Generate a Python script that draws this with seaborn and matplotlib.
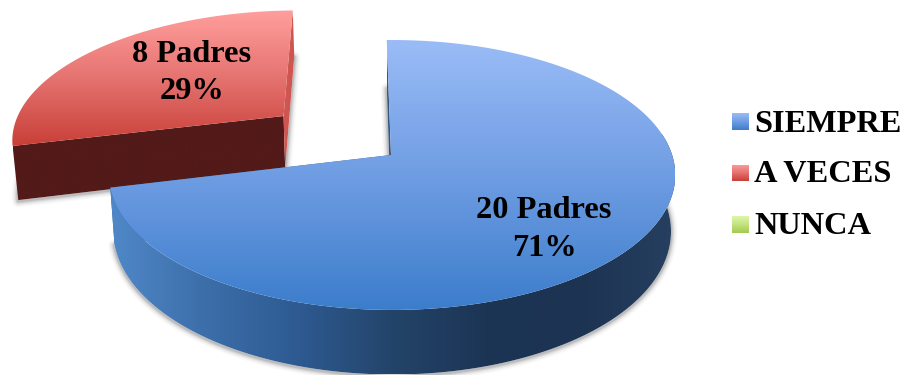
import numpy as np
import matplotlib
matplotlib.use("Agg")
import matplotlib.pyplot as plt
from matplotlib.colors import LinearSegmentedColormap
from matplotlib.patches import Polygon
import seaborn as sns

# ---- data ----
categories = ["SIEMPRE", "A VECES", "NUNCA"]
counts = [20, 8, 0]
percent_labels = ["71%", "29%", "0%"]
explode = [0.0, 0.507, 0.0]

# ---- style ----
sns.set_theme(style="white")
plt.rcParams["font.family"] = ["Liberation Serif", "DejaVu Serif"]
plt.rcParams["font.weight"] = "bold"

top_colors = [["#9abcf6", "#6f9de3", "#3c7dcb"],
              ["#ff9f9d", "#e57370", "#c93f38"],
              ["#ddf7ab", "#c4e27f", "#a3c94e"]]
wall_colors = ["#5088c8", "#3c6ea9", "#2e5a91", "#234469", "#1c3555", "#1c3352", "#273f60"]
start_face_colors = ["#35577f", "#521a18"]
end_face_colors = ["#3a6299", "#cf5650"]

# camera / layout (pixels)
W, H = 903, 375
cx, cy, a, b = 391, 155, 280, 132
k, m = 0.148, 0.004
depth, squeeze = 55, 0.985
rot = -1.0
label_size = 23.3

fig = plt.figure(figsize=(W / 100, H / 100), dpi=100, facecolor="white")
ax = fig.add_axes([0, 0, 1, 1])
ax.set_xlim(0, W)
ax.set_ylim(H, 0)
ax.axis("off")


def cmap(cols):
    return LinearSegmentedColormap.from_list("g", sns.blend_palette(cols, 64))


def project(u, v):
    den = 1 - k * v - m * u
    return cx + a * u / den, cy + b * v / den, den


def sink(x, y, den):
    return cx + (x - cx) * squeeze, y + depth / den


def fill(poly, cols, vertical=True, z=1):
    poly = np.asarray(poly)
    x0, y0 = poly.min(axis=0)
    x1, y1 = poly.max(axis=0)
    grad = np.linspace(0, 1, 256)
    grad = grad[:, None] if vertical else grad[None, :]
    im = ax.imshow(grad, cmap=cmap(cols), extent=[x0, x1, y1, y0], origin="upper",
                   aspect="auto", zorder=z, interpolation="bilinear")
    patch = Polygon(poly, closed=True, transform=ax.transData, fc="none", ec="none")
    ax.add_patch(patch)
    im.set_clip_path(patch)
    ax.set_xlim(0, W)
    ax.set_ylim(H, 0)


total = sum(counts)
edges = np.cumsum([0] + counts) / total * 360 + rot

for i in [1, 0]:
    t0, t1 = np.radians(edges[i]), np.radians(edges[i + 1])
    mid = (t0 + t1) / 2
    u0, v0 = explode[i] * np.sin(mid), -explode[i] * np.cos(mid)
    th = np.linspace(t0, t1, 300)
    ax_, ay_, aden = project(u0, v0)
    rx, ry, rden = project(u0 + np.sin(th), v0 - np.cos(th))
    bx, by = sink(rx, ry, rden)
    abx, aby = sink(ax_, ay_, aden)
    apex, apex_b = (ax_, ay_), (abx, aby)
    top_arc = np.c_[rx, ry]
    bot_arc = np.c_[bx, by]
    base = 10 + i * -5

    # soft shadow of the base
    outline = np.vstack([[apex_b], bot_arc])
    for lw, alpha in [(9, 0.03), (7, 0.05), (5, 0.07), (3.5, 0.10), (2, 0.14)]:
        ax.add_patch(Polygon(outline + [0, 1], closed=True, fc="none",
                             ec=(0.25, 0.25, 0.25, alpha), lw=lw, zorder=base, joinstyle="round"))
    ax.add_patch(Polygon(outline, closed=True, fc="white", ec="none", zorder=base + 0.1))

    # radial faces at both ends of the slice
    fill([top_arc[0], bot_arc[0], apex_b, apex], [start_face_colors[i]] * 2, z=base + 0.2)
    fill([top_arc[-1], bot_arc[-1], apex_b, apex], [end_face_colors[i]] * 2, z=base + 0.3)
    # outer wall (only where it faces the viewer)
    if i == 0:
        front = np.degrees(th) >= 80
        wall = np.vstack([top_arc[front], bot_arc[front][::-1]])
        fill(wall, wall_colors, vertical=False, z=base + 0.4)
    # top surface
    fill(np.vstack([[apex], top_arc]), top_colors[i], z=base + 0.5)

# data labels: (x, baseline of first line, baseline of second line)
label_pos = [(544, 218, 256), (192, 62.5, 99)]
for i, (lx, y1, y2) in enumerate(label_pos):
    ax.text(lx, y1, f"{counts[i]} Padres", ha="center", va="baseline",
            fontsize=label_size, fontweight="bold", color="black", zorder=30)
    ax.text(lx, y2, percent_labels[i], ha="center", va="baseline",
            fontsize=label_size, fontweight="bold", color="black", zorder=30)

# legend
legend_y = [121.5, 173, 224.5]
legend_baseline = [131.5, 182.5, 234]
for name, ly, by_, cols in zip(categories, legend_y, legend_baseline, top_colors):
    sq = [(732, ly - 8.5), (749, ly - 8.5), (749, ly + 8.5), (732, ly + 8.5)]
    fill(sq, cols, z=30)
    ax.text(754.5, by_, name, ha="left", va="baseline", fontsize=label_size,
            fontweight="bold", color="black", zorder=30)

fig.savefig("out.png", dpi=100, facecolor="white")
